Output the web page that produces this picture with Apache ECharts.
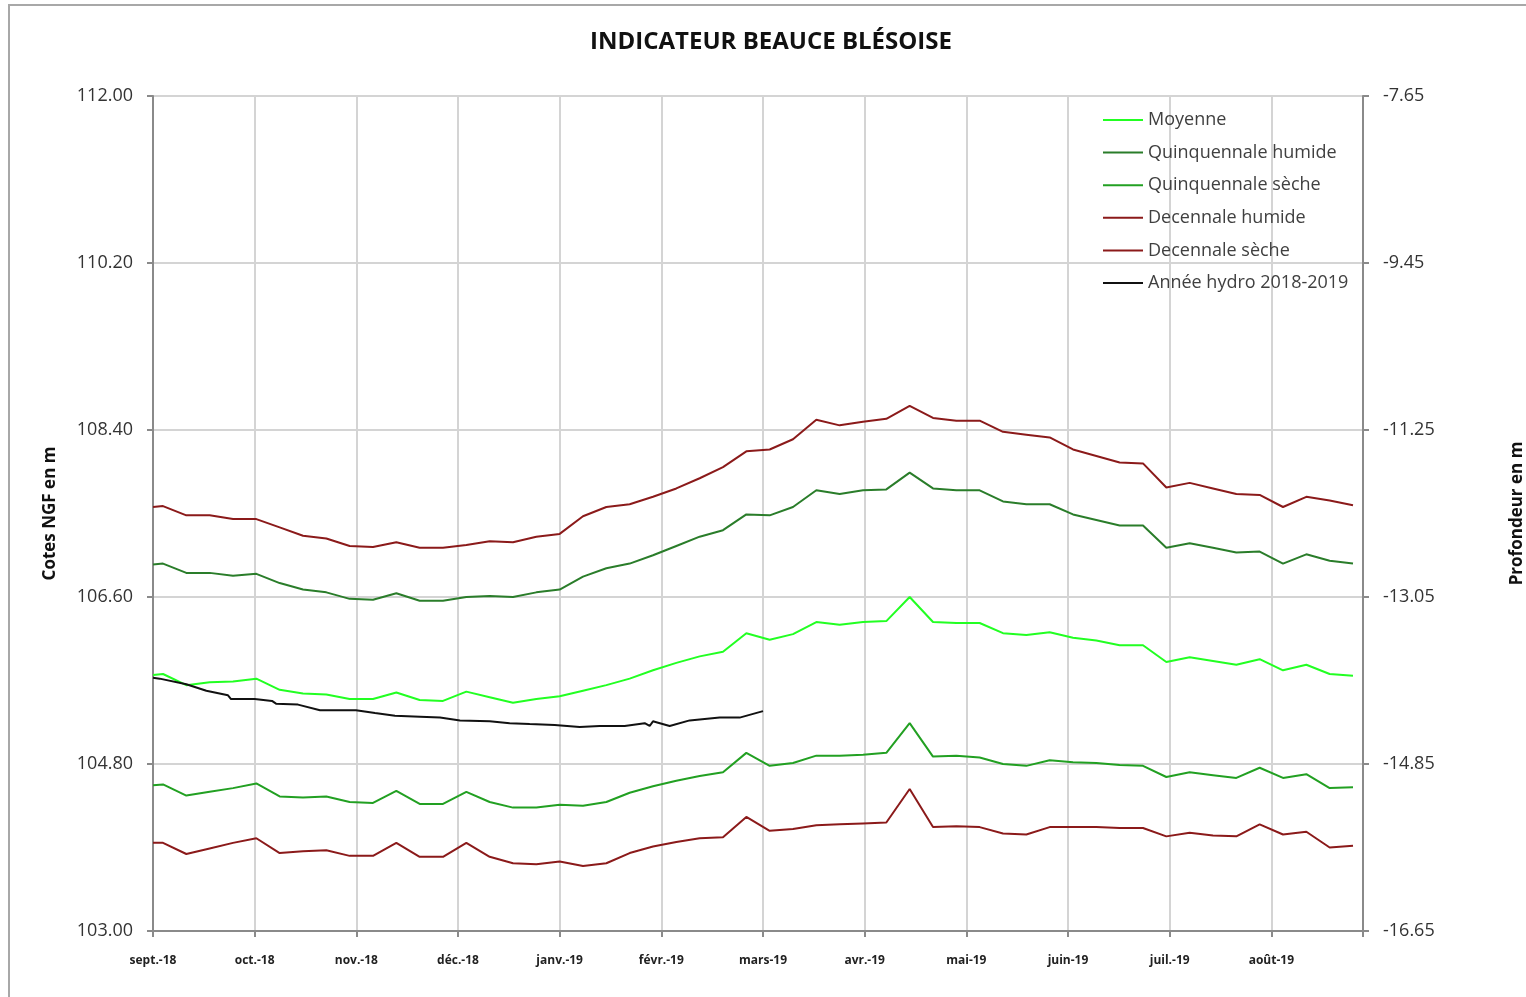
<!DOCTYPE html>
<html>
<head>
<meta charset="utf-8">
<script src="https://cdn.jsdelivr.net/npm/echarts@6/dist/echarts.min.js"></script>
<style>
html,body{margin:0;padding:0;background:#fff;overflow:hidden;width:1526px;height:997px;}
#chart{width:1526px;height:997px;}
</style>
</head>
<body>
<div id="chart"></div>
<script>
// Month labels (x axis ticks, one per month)
const MONTHS = ['sept.-18','oct.-18','nov.-18','déc.-18','janv.-19','févr.-19','mars-19','avr.-19','mai-19','juin-19','juil.-19','août-19'];
// Day offsets from 1 sept. 2018 of the statistical series points
const DAYS = [0,3,10,17,24,31,38,45,52,59,66,73,80,87,94,101,108,115,122,129,136,143,150,157,164,171,178,185,192,199,206,213,220,227,234,241,248,255,262,269,276,283,290,297,304,311,318,325,332,339,346,353,360];

const MOYENNE = [105.76,105.77,105.65,105.68,105.69,105.72,105.60,105.56,105.55,105.50,105.50,105.57,105.49,105.48,105.58,105.52,105.46,
  105.50,105.53,105.59,105.65,105.72,105.81,105.89,105.96,106.01,106.21,106.14,106.20,106.33,106.30,106.33,106.34,
  106.60,106.33,106.32,106.32,106.21,106.19,106.22,106.16,106.13,106.08,106.08,105.90,105.95,105.91,105.87,105.93,105.81,105.87,105.77,105.75];
const QUINQ_HUMIDE = [106.95,106.96,106.86,106.86,106.83,106.85,106.75,106.68,106.65,106.58,106.57,106.64,106.56,106.56,106.60,106.61,106.60,
  106.65,106.68,106.82,106.91,106.96,107.05,107.15,107.25,107.32,107.49,107.48,107.57,107.75,107.71,107.75,107.76,
  107.94,107.77,107.75,107.75,107.63,107.60,107.60,107.49,107.43,107.37,107.37,107.13,107.18,107.13,107.08,107.09,106.96,107.06,106.99,106.96];
const QUINQ_SECHE = [104.57,104.58,104.46,104.50,104.54,104.59,104.45,104.44,104.45,104.39,104.38,104.51,104.37,104.37,104.50,104.39,104.33,
  104.33,104.36,104.35,104.39,104.49,104.56,104.62,104.67,104.71,104.92,104.78,104.81,104.89,104.89,104.90,104.92,
  105.24,104.88,104.89,104.87,104.80,104.78,104.84,104.82,104.81,104.79,104.78,104.66,104.71,104.68,104.65,104.76,104.65,104.69,104.54,104.55];
const DEC_HUMIDE = [107.57,107.58,107.48,107.48,107.44,107.44,107.35,107.26,107.23,107.15,107.14,107.19,107.13,107.13,107.16,107.20,107.19,
  107.25,107.28,107.47,107.57,107.60,107.68,107.77,107.88,108.00,108.17,108.19,108.30,108.51,108.45,108.49,108.52,
  108.66,108.53,108.50,108.50,108.38,108.35,108.32,108.19,108.12,108.05,108.04,107.78,107.83,107.77,107.71,107.70,107.57,107.68,107.64,107.59];
const DEC_SECHE = [103.95,103.95,103.83,103.89,103.95,104.00,103.84,103.86,103.87,103.81,103.81,103.95,103.80,103.80,103.95,103.80,103.73,
  103.72,103.75,103.70,103.73,103.84,103.91,103.96,104.00,104.01,104.23,104.08,104.10,104.14,104.15,104.16,104.17,
  104.53,104.12,104.13,104.12,104.05,104.04,104.12,104.12,104.12,104.11,104.11,104.02,104.06,104.03,104.02,104.15,104.04,104.07,103.90,103.92];
// Année hydro 2018-2019 (observed)
const HYDRO_DAYS = [0,2,10,16,22.5,23.4,30.5,35.7,36.9,43.5,50.1,60.9,66.6,72.6,80.1,86.1,92.1,101,107,113,120.5,128,134,141.5,147.5,149,150,151,155,161,170,176,183];
const HYDRO_VALUES = [105.73,105.72,105.66,105.59,105.54,105.50,105.50,105.48,105.45,105.44,105.38,105.38,105.35,105.32,105.31,105.30,105.27,105.26,105.24,105.23,105.22,105.20,105.21,105.21,105.24,105.21,105.26,105.25,105.21,105.27,105.30,105.30,105.37];

// Axis settings (left axis: Cotes NGF, right axis: profondeur)
const Y_BASE = 103.00;      // bottom of the left axis
const DEPTH_BASE = -16.65;  // bottom of the right axis
const Y_SPAN = 9;
const Y_STEP = 1.8;
const MONTH_DAYS = 30.5;

const SERIES = [
  {name:'Moyenne', values:MOYENNE, color:'#22ff22'},
  {name:'Quinquennale humide', values:QUINQ_HUMIDE, color:'#2a7d2a'},
  {name:'Quinquennale sèche', values:QUINQ_SECHE, color:'#22a022'},
  {name:'Decennale humide', values:DEC_HUMIDE, color:'#8b1a1a'},
  {name:'Decennale sèche', values:DEC_SECHE, color:'#8b1a1a'}
];

const FONT = 'Open Sans';
const chart = echarts.init(document.getElementById('chart'), null, {renderer:'canvas', width:1526, height:997});

const series = SERIES.map(s => ({
  name: s.name, type:'line', symbol:'none', animation:false,
  lineStyle:{color:s.color, width:2}, itemStyle:{color:s.color},
  data: DAYS.map((d,i) => [d, s.values[i] - Y_BASE])
}));
series.push({
  name:'Année hydro 2018-2019', type:'line', symbol:'none', animation:false,
  lineStyle:{color:'#111111', width:2}, itemStyle:{color:'#111111'},
  data: HYDRO_DAYS.map((d,i) => [d, HYDRO_VALUES[i] - Y_BASE])
});

const axisLineStyle = {color:'#8a8a8a', width:2};

chart.setOption({
  backgroundColor:'#ffffff',
  animation:false,
  graphic:[{
    type:'rect', silent:true, z:-10,
    shape:{x:9, y:5, width:1560, height:1040},
    style:{fill:'none', stroke:'#a8a8a8', lineWidth:2}
  },{
    type:'text', silent:true, x:771, y:42,
    style:{text:'INDICATEUR BEAUCE BLÉSOISE', fontFamily:FONT, fontSize:24, fontWeight:'bold', fill:'#111',
      align:'center', verticalAlign:'middle'}
  }],
  legend:{
    orient:'vertical', left:1103, top:111, padding:0,
    icon:'rect', itemWidth:40, itemHeight:2, itemGap:14.6,
    textStyle:{fontFamily:FONT, fontSize:18, color:'#404040'},
    data:['Moyenne','Quinquennale humide','Quinquennale sèche','Decennale humide','Decennale sèche','Année hydro 2018-2019']
  },
  grid:{left:153, right:163, top:96, bottom:66, containLabel:false, outerBoundsMode:'none'},
  xAxis:{
    type:'value', min:0, max:363, interval:MONTH_DAYS,
    axisLine:{show:true, lineStyle:axisLineStyle},
    axisTick:{show:true, length:6, lineStyle:axisLineStyle},
    splitLine:{show:true, lineStyle:{color:'#d4d4d4', width:2}},
    axisLabel:{
      margin:24, fontFamily:FONT, fontSize:12, fontWeight:'bold', color:'#222',
      showMaxLabel:true,
      formatter:(v)=>{ const i = Math.round(v/MONTH_DAYS); return Math.abs(v - i*MONTH_DAYS) < 0.01 && i < MONTHS.length ? MONTHS[i] : ''; }
    }
  },
  yAxis:[{
    type:'value', position:'left', min:0, max:Y_SPAN, interval:Y_STEP,
    name:'Cotes NGF en m', nameLocation:'middle', nameGap:94,
    nameTextStyle:{fontFamily:FONT, fontSize:17, fontWeight:'bold', color:'#111'},
    axisLine:{show:true, lineStyle:axisLineStyle},
    axisTick:{show:true, length:6, lineStyle:axisLineStyle},
    splitLine:{show:true, lineStyle:{color:'#d4d4d4', width:2}},
    axisLabel:{margin:20, fontFamily:FONT, fontSize:18, color:'#333',
      formatter:(v)=>(v + Y_BASE).toFixed(2)}
  },{
    type:'value', position:'right', min:0, max:Y_SPAN, interval:Y_STEP,
    name:'Profondeur en m', nameLocation:'middle', nameGap:146,
    nameTextStyle:{fontFamily:FONT, fontSize:17, fontWeight:'bold', color:'#111'},
    axisLine:{show:true, lineStyle:axisLineStyle},
    axisTick:{show:true, length:6, lineStyle:axisLineStyle},
    splitLine:{show:false},
    axisLabel:{margin:20, fontFamily:FONT, fontSize:18, color:'#333',
      formatter:(v)=>(v + DEPTH_BASE).toFixed(2)}
  }],
  series: series
});
</script>
</body>
</html>
